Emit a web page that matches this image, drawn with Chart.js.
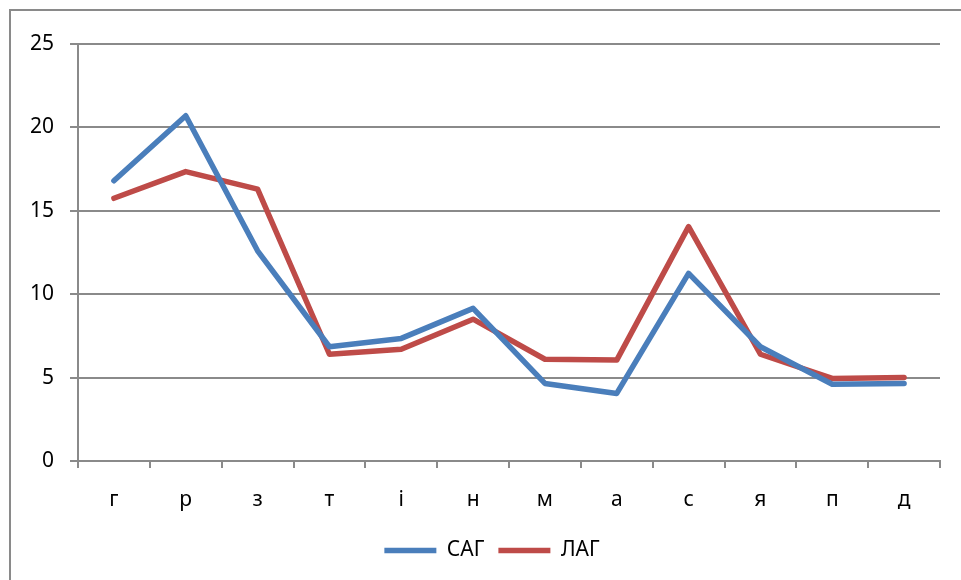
<!DOCTYPE html>
<html>
<head>
<meta charset="utf-8">
<script src="https://cdn.jsdelivr.net/npm/chart.js@4"></script>
<style>
  body { margin: 0; background: #fff; }
  #wrap { position: relative; width: 961px; height: 580px; overflow: hidden; }
  #frame { position: absolute; left: 9px; top: 9px; width: 1000px; height: 700px; border: 2px solid #8a8a8a; }
  canvas { position: absolute; left: 0; top: 0; }
</style>
</head>
<body>
<div id="wrap">
  <div id="frame"></div>
  <canvas id="chart" width="961" height="580"></canvas>
</div>
<script>
const categories = ["г", "р", "з", "т", "і", "н", "м", "а", "с", "я", "п", "д"];
const sagValues = [16.8, 20.7, 12.6, 6.85, 7.35, 9.15, 4.65, 4.05, 11.25, 6.85, 4.6, 4.65];
const lagValues = [15.75, 17.35, 16.3, 6.4, 6.7, 8.5, 6.1, 6.05, 14.05, 6.4, 4.95, 5.0];
const yTicks = [0, 5, 10, 15, 20, 25];

const font = { family: "'Noto Sans', sans-serif", size: 21 };
const gridColor = "#8a8a8a";

// nudge the legend a little to the right, as in the original
const legendShift = {
  id: "legendShift",
  afterLayout(chart) {
    chart.legend.left += 22;
    chart.legend.right += 22;
  }
};

new Chart(document.getElementById("chart"), {
  type: "line",
  data: {
    labels: categories,
    datasets: [
      { label: "САГ", data: sagValues, borderColor: "#4a7ebb", backgroundColor: "#4a7ebb",
        borderWidth: 5.5, pointRadius: 0, tension: 0, borderCapStyle: "round", borderJoinStyle: "round" },
      { label: "ЛАГ", data: lagValues, borderColor: "#be4b48", backgroundColor: "#be4b48",
        borderWidth: 5.5, pointRadius: 0, tension: 0, borderCapStyle: "round", borderJoinStyle: "round" }
    ]
  },
  options: {
    responsive: false,
    animation: false,
    layout: { padding: { left: 0, top: 44, right: 21, bottom: 9 } },
    plugins: {
      tooltip: { enabled: false },
      legend: {
        position: "bottom",
        labels: {
          usePointStyle: true,
          pointStyle: "line",
          pointStyleWidth: 52,
          color: "#000",
          font: font,
          padding: 14
        }
      }
    },
    scales: {
      x: {
        offset: true,
        grid: { offset: true, drawOnChartArea: false, drawTicks: true, tickLength: 7, color: gridColor, lineWidth: 2 },
        border: { color: gridColor, width: 2 },
        ticks: { color: "#000", font: font, padding: 19, maxRotation: 0 },
        afterFit: s => { s.height = 65; }
      },
      y: {
        min: 0,
        max: 25,
        afterBuildTicks: s => { s.ticks = yTicks.map(v => ({ value: v })); },
        grid: { color: gridColor, lineWidth: 2, tickLength: 8 },
        border: { color: gridColor, width: 2 },
        ticks: { color: "#000", font: font, padding: 16 },
        afterFit: s => { s.width = 78; }
      }
    }
  },
  plugins: [legendShift]
});
</script>
</body>
</html>
